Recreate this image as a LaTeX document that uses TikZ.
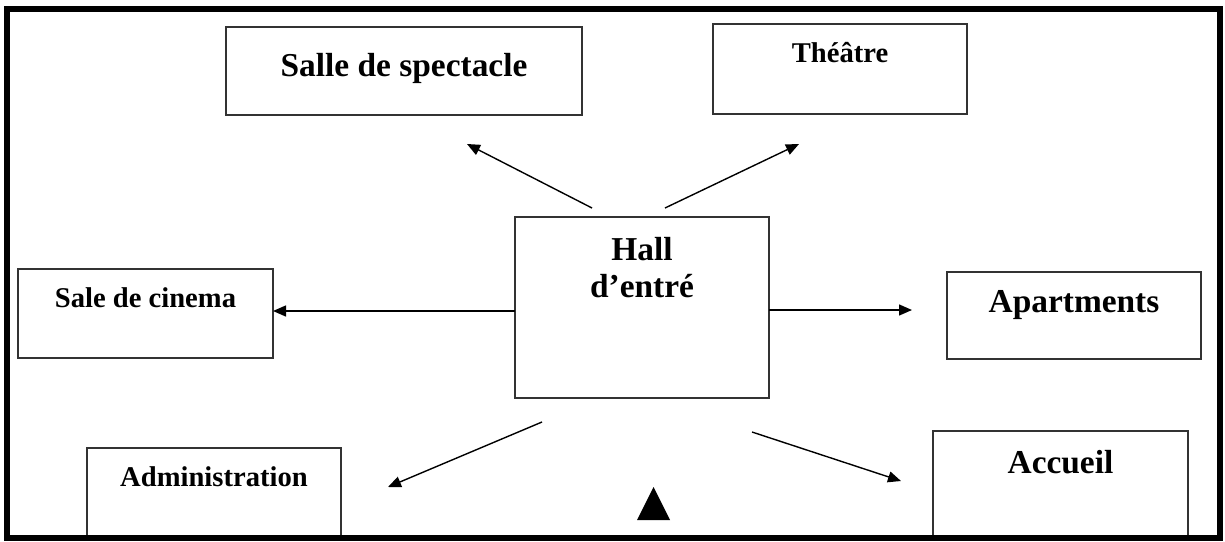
\documentclass[tikz,border=0pt]{standalone}
\usepackage{fontspec}
\setmainfont{Liberation Serif}
\usetikzlibrary{arrows.meta}
\begin{document}
\begin{tikzpicture}[x=0.5pt,y=-0.5pt,
  box/.style={draw=black!80, line width=1pt, inner sep=0pt, outer sep=0pt, anchor=north},
  big/.style={font=\fontsize{16.7}{18.5}\selectfont\bfseries},
  small/.style={font=\fontsize{14.3}{17}\selectfont\bfseries},
  arr/.style={line width=0.7pt, -{Triangle[length=6.5pt,width=5.5pt]}},
  frameline/.style={line width=3pt}]
\useasboundingbox (0,0) rectangle (1225,541);
% boxes
\node[box,big,minimum width=178pt,text height=24.5pt,text depth=19.5pt] (spect) at (404,27) {Salle de spectacle};
\node[box,small,minimum width=127pt,text height=19pt,text depth=26pt] (theatre) at (840,24) {Théâtre};
\node[box,big,minimum width=127pt,text height=21.5pt,text depth=69pt] (hall) at (642,217) {\begin{tabular}[t]{@{}c@{}}Hall\\d’entré\end{tabular}};
\node[box,small,minimum width=127.5pt,text height=19pt,text depth=25.5pt] (cinema) at (145.5,269) {Sale de cinema};
\node[box,big,minimum width=127pt,text height=20pt,text depth=23.5pt] (apart) at (1074,272) {Apartments};
\node[box,small,minimum width=127pt,text height=19pt,text depth=26pt] (admin) at (214,448) {Administration};
\node[box,big,minimum width=127.5pt,text height=21pt,text depth=32.5pt] (accueil) at (1060.5,431) {Accueil};
% arrow end points
\coordinate (spect-from) at (592,208);
\coordinate (spect-to) at (467,144);
\coordinate (theatre-from) at (665,208);
\coordinate (theatre-to) at (799,144);
\coordinate (mid-y) at (0,311);
\coordinate (apart-y) at (0,310);
\coordinate (apart-to) at (912,310);
\coordinate (admin-from) at (542,422);
\coordinate (admin-to) at (388,487);
\coordinate (accueil-from) at (752,432);
\coordinate (accueil-to) at (901,481);
% connectors
\draw[arr] (spect-from) -- (spect-to);
\draw[arr] (theatre-from) -- (theatre-to);
\draw[arr] (hall.west |- mid-y) -- (cinema.east |- mid-y);
\draw[arr] (hall.east |- apart-y) -- (apart-to);
\draw[arr] (admin-from) -- (admin-to);
\draw[arr] (accueil-from) -- (accueil-to);
% triangle mark
\fill (637,520) -- (670,520) -- (653.5,487) -- cycle;
% outer frame
\draw[frameline] (7,9) rectangle (1220,538);
\end{tikzpicture}
\end{document}
